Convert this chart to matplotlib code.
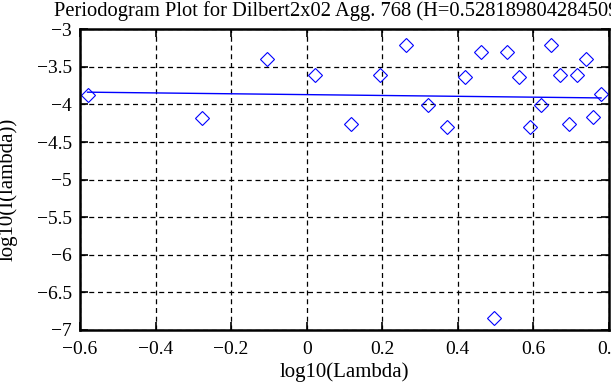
import numpy as np
import matplotlib
matplotlib.use('Agg')
import matplotlib.pyplot as plt

# periodogram points
log_lambda = [-0.580, -0.278, -0.105, 0.022, 0.118, 0.194, 0.262, 0.322, 0.372,
              0.418, 0.460, 0.496, 0.531, 0.563, 0.592, 0.620, 0.646, 0.670,
              0.694, 0.716, 0.738, 0.758, 0.779]
log_I = [-3.874, -4.175, -3.399, -3.604, -4.263, -3.608, -3.213, -4.007, -4.295,
         -3.630, -3.298, -6.835, -3.306, -3.630, -4.295, -4.011, -3.209, -3.612,
         -4.263, -3.608, -3.395, -4.171, -3.865]

# fitted line
fit_slope = -0.0564
fit_intercept = -3.869

title = 'Periodogram Plot for Dilbert2x02 Agg. 768 (H=0.5281898042845094)'
xticks = [-0.6, -0.4, -0.2, 0, 0.2, 0.4, 0.6, 0.8]
yticks = [-3, -3.5, -4, -4.5, -5, -5.5, -6, -6.5, -7]

plt.rcParams['font.family'] = ['Liberation Serif', 'DejaVu Serif']
plt.rcParams['font.size'] = 13

fig = plt.figure(figsize=(6.11, 3.85), dpi=100)
ax = fig.add_axes([0.1309, 0.1429, 0.8658, 0.781])

ax.plot(log_lambda, log_I, 'D', ms=7, mfc='none', mec='blue', mew=0.8)
xf = np.array([min(log_lambda), max(log_lambda)])
ax.plot(xf, fit_intercept + fit_slope * xf, color='blue', lw=1)

ax.set_xlim(-0.6, 0.8)
ax.set_ylim(-7, -3)
ax.set_xticks(xticks)
ax.set_yticks(yticks)
ax.set_xticklabels(['\u22120.6', '\u22120.4', '\u22120.2', '0', '0.2', '0.4', '0.6', '0.8'])
ax.set_yticklabels(['\u22123', '\u22123.5', '\u22124', '\u22124.5', '\u22125', '\u22125.5',
                    '\u22126', '\u22126.5', '\u22127'])
ax.tick_params(direction='in', length=6, width=1.2, top=True, right=True, labelsize=14, pad=6)
ax.tick_params(axis='x', pad=8)
ax.grid(True, color='black', linestyle=(0, (4, 3)), linewidth=0.9)
for s in ax.spines.values():
    s.set_linewidth(1.8)

ax.set_xlabel('log10(Lambda)', fontsize=15, labelpad=3)
ax.set_ylabel('log10(I(lambda))', fontsize=15)
ax.yaxis.set_label_coords(-0.117, 0.466)
ax.set_title(title, fontsize=14.8, pad=9.5)

fig.savefig('out.png', dpi=100)
